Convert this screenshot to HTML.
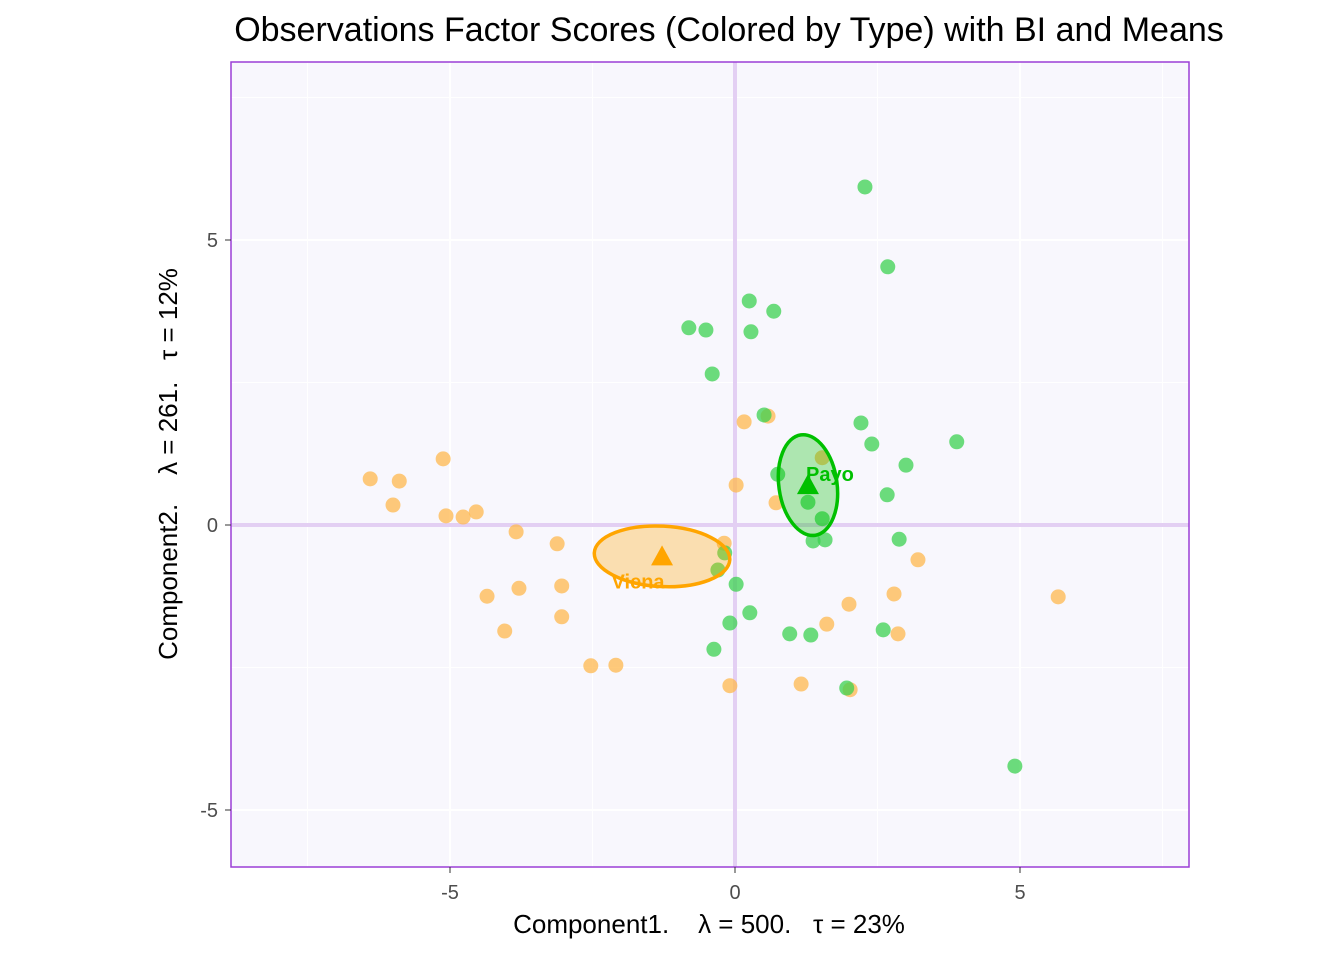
<!DOCTYPE html>
<html><head><meta charset="utf-8"><style>
body{margin:0;background:#fff;}
text{font-family:"Liberation Sans",sans-serif;}
.pre{white-space:pre;}
</style></head><body>
<svg id="chart" width="1344" height="960" viewBox="0 0 1344 960" xmlns="http://www.w3.org/2000/svg">
<text x="729" y="41" font-size="34" text-anchor="middle" fill="#000">Observations Factor Scores (Colored by Type) with BI and Means</text>
<rect x="231" y="62" width="958" height="805" fill="#f8f7fd"/>
<g id="grid"></g>
<g id="marks"></g>
<rect x="231" y="62" width="958" height="805" fill="none" stroke="#9b3fd6" stroke-width="1.5"/>
<g id="ticks"></g>
<text class="pre" x="709" y="933" font-size="26" text-anchor="middle">Component1.    λ = 500.   τ = 23%</text>
<text class="pre" transform="translate(177,464) rotate(-90)" font-size="26" text-anchor="middle">Component2.    λ = 261.   τ = 12%</text>
</svg>
<script>
const greenX=[2.28,2.68,0.25,0.68,-0.81,-0.51,0.28,-0.40,0.51,2.21,2.40,3.89,3.00,0.75,2.67,1.28,1.53,2.88,1.37,1.58,-0.18,-0.30,0.02,0.26,-0.09,0.96,1.33,-0.37,2.60,1.96,4.91];
const greenY=[5.93,4.53,3.93,3.75,3.46,3.42,3.39,2.65,1.93,1.79,1.42,1.46,1.05,0.89,0.53,0.40,0.11,-0.25,-0.28,-0.26,-0.49,-0.79,-1.04,-1.54,-1.72,-1.91,-1.93,-2.18,-1.84,-2.86,-4.23];
const orangeX=[-5.12,-6.40,-5.89,-6.00,-5.07,-4.77,-4.54,-3.84,-3.12,-3.79,-3.04,-4.35,-3.04,-4.04,-2.53,-2.09,0.16,0.58,0.02,0.72,1.53,-0.19,3.21,2.79,2.00,1.61,2.86,-0.09,1.16,2.02,5.67];
const orangeY=[1.16,0.81,0.77,0.35,0.16,0.14,0.23,-0.12,-0.33,-1.11,-1.07,-1.25,-1.61,-1.86,-2.47,-2.46,1.81,1.91,0.70,0.39,1.18,-0.32,-0.61,-1.21,-1.39,-1.74,-1.91,-2.82,-2.79,-2.89,-1.26];
const groupNames=["Viena","Payo"];
const meanX=[-1.28,1.28];
const meanY=[-0.55,0.70];
const ellRx=[1.19,0.51];
const ellRy=[0.53,0.89];
const xTicks=[-5,0,5];
const yTicks=[-5,0,5];
const xMinor=[-7.5,-2.5,2.5,7.5];
const yMinor=[-7.5,-2.5,2.5,7.5];
const sx=v=>735+57*v, sy=v=>525-57*v;
const NS="http://www.w3.org/2000/svg";
function mk(t,a,p){const e=document.createElementNS(NS,t);for(const k in a)e.setAttribute(k,a[k]);p.appendChild(e);return e;}
const grid=document.getElementById('grid'),marks=document.getElementById('marks'),ticks=document.getElementById('ticks');
xMinor.forEach(v=>{const x=sx(v);if(x<231||x>1189)return;const l=mk('line',{x1:x,x2:x,y1:62,y2:867,stroke:'#fff','stroke-width':1},grid);

});
yMinor.forEach(v=>{const y=sy(v);if(y<62||y>867)return;const l=mk('line',{x1:231,x2:1189,y1:y,y2:y,stroke:'#fff','stroke-width':1},grid);

});
xTicks.forEach(v=>{const x=sx(v);const l=mk('line',{x1:x,x2:x,y1:62,y2:867,stroke:'#fff','stroke-width':2},grid);


const t=mk('text',{x:x,y:899,'font-size':20,'text-anchor':'middle',fill:'#4d4d4d'},ticks);t.textContent=v;


mk('line',{x1:x,x2:x,y1:867,y2:873,stroke:'#333','stroke-width':1},ticks);});
yTicks.forEach(v=>{const y=sy(v);const l=mk('line',{x1:231,x2:1189,y1:y,y2:y,stroke:'#fff','stroke-width':2},grid);


const t=mk('text',{x:218,y:y+7,'font-size':20,'text-anchor':'end',fill:'#4d4d4d'},ticks);t.textContent=v;


mk('line',{x1:225,x2:231,y1:y,y2:y,stroke:'#333','stroke-width':1},ticks);});
const h=mk('line',{x1:231,x2:1189,y1:sy(0),y2:sy(0),stroke:'#e3cff3','stroke-width':4},grid);


const v0=mk('line',{x1:sx(0),x2:sx(0),y1:62,y2:867,stroke:'#e3cff3','stroke-width':4},grid);


const cols=['#ffa500','#00c000'];
const fills=['rgba(255,165,0,0.3)','rgba(0,192,0,0.3)'];
const pcol=['rgba(255,184,77,0.75)','rgba(60,210,80,0.75)'];
[[orangeX,orangeY,0],[greenX,greenY,1]].forEach(([X,Y,g])=>{X.forEach((x,i)=>{const c=mk('circle',{cx:sx(x),cy:sy(Y[i]),r:7.5,fill:pcol[g]},marks);

});});
groupNames.forEach((n,g)=>{const e=mk('ellipse',{cx:sx(meanX[g]),cy:sy(meanY[g]),rx:57*ellRx[g],ry:57*ellRy[g],fill:fills[g],stroke:cols[g],'stroke-width':3.5,transform:`rotate(${g?-8:3} ${sx(meanX[g])} ${sy(meanY[g])})`},marks);


const x=sx(meanX[g]),y=sy(meanY[g]);
const tr=mk('polygon',{points:`${x},${y-11} ${x-11},${y+9} ${x+11},${y+9}`,fill:cols[g]},marks);


const t=mk('text',{x:g?x+22:x-24,y:g?y-4:y+32,'font-size':20,'font-weight':'bold','text-anchor':'middle',fill:cols[g]},marks);t.textContent=n;

});
</script>
</body></html>
